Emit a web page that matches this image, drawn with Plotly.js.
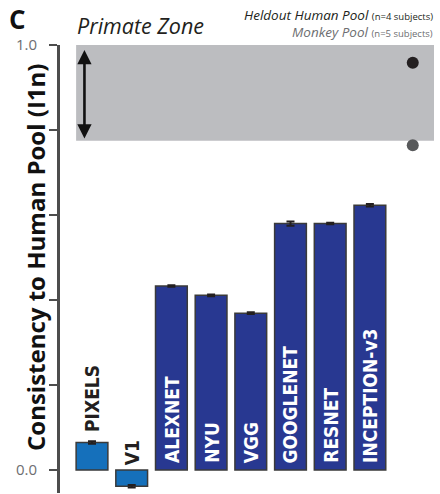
<!DOCTYPE html>
<html>
<head>
<meta charset="utf-8">
<script src="https://cdn.plot.ly/plotly-3.0.1.min.js"></script>
<style>
  html, body { margin: 0; padding: 0; background: #fff; }
  #chart { width: 440px; height: 494px; }
</style>
</head>
<body>
<div id="chart"></div>
<script>
// Model consistency with the human pool (I1n metric)
const models = ['PIXELS', 'V1', 'ALEXNET', 'NYU', 'VGG', 'GOOGLENET', 'RESNET', 'INCEPTION-v3'];
const consistency = [0.065, -0.038, 0.433, 0.411, 0.369, 0.580, 0.580, 0.623];
const consistencyErr = [0.003, 0.003, 0.002, 0.002, 0.002, 0.005, 0.002, 0.003];
const modelColors = ['#1570bb', '#1570bb', '#283891', '#283891', '#283891', '#283891', '#283891', '#283891'];

// Primate reference pools
const poolNames = ['Heldout Human Pool', 'Monkey Pool'];
const poolSubjects = [4, 5];
const poolConsistency = [0.958, 0.764];
const poolColors = ['#231f20', '#58595b'];
const poolTextColors = ['#231f20', '#6d6e71'];

// Primate zone band limits
const zoneLow = 0.775;
const zoneHigh = 1.0;

const yTickVals = [0, 0.2, 0.4, 0.6, 0.8, 1.0];
const yTickText = ['0.0', '', '', '', '', '1.0'];

// layout constants
const idx = models.map((_, i) => i);
const poolX = 8.08;
const labelFont = { family: 'Liberation Sans Narrow, DejaVu Sans Condensed, sans-serif', size: 19, weight: 'bold' };

const bars = {
  type: 'bar',
  x: idx,
  y: consistency,
  width: 0.8,
  marker: { color: modelColors, line: { color: '#3a3a3a', width: 1.5 } },
  error_y: { type: 'data', array: consistencyErr, visible: true, color: '#231f20', thickness: 2, width: 4 },
  hoverinfo: 'x+y',
  showlegend: false
};

const pools = {
  type: 'scatter',
  mode: 'markers',
  x: poolNames.map(() => poolX),
  y: poolConsistency,
  marker: { color: poolColors, size: 12 },
  text: poolNames,
  hoverinfo: 'text+y',
  showlegend: false
};

// bar name labels: pixel/V1 above their bars, the deep nets inside theirs
const annotations = models.map((m, i) => {
  const inside = i >= 2;
  return {
    x: i, xref: 'x',
    y: inside ? 0 : Math.max(consistency[i], 0), yref: 'y',
    yanchor: 'bottom', xanchor: 'center',
    yshift: inside ? 5 : (i === 0 ? 8 : 3),
    text: m, textangle: -90, showarrow: false,
    font: Object.assign({}, labelFont, { color: inside ? '#ffffff' : '#231f20' })
  };
});

// double-headed arrow spanning the primate zone
annotations.push({
  x: -0.19, y: zoneLow + 0.005, xref: 'x', yref: 'y',
  ax: -0.19, ay: zoneHigh - 0.008, axref: 'x', ayref: 'y',
  text: '', showarrow: true, arrowhead: 2, startarrowhead: 2, arrowside: 'end+start',
  arrowsize: 1.1, startarrowsize: 1.1, arrowwidth: 2.6, arrowcolor: '#111111'
});

// axis title, panel letter, zone title and pool legend text
annotations.push(
  { text: 'Consistency to Human Pool (I1n)', textangle: -90,
    xref: 'paper', yref: 'paper', x: 0, y: 0.5, xshift: -25, yshift: 11,
    xanchor: 'center', yanchor: 'middle', showarrow: false,
    font: { family: 'Open Sans, sans-serif', size: 24, weight: 'bold', color: '#111' } },
  { text: 'C', xref: 'paper', yref: 'paper', x: 0, y: 1, xshift: -52, yshift: 45,
    xanchor: 'left', yanchor: 'top', showarrow: false, borderpad: 0,
    font: { family: 'Open Sans, sans-serif', size: 26, weight: 'bold', color: '#111' } },
  { text: '<i>Primate Zone</i>', xref: 'paper', yref: 'paper', x: 0, y: 1, xshift: 15, yshift: 3,
    xanchor: 'left', yanchor: 'bottom', showarrow: false,
    font: { family: 'Open Sans, sans-serif', size: 21.5, color: '#231f20' } }
);
poolNames.forEach((p, k) => {
  annotations.push({
    text: '<i>' + p + '</i> <span style="font-size:9.5px">(n=' + poolSubjects[k] + ' subjects)</span>',
    xref: 'paper', yref: 'paper', x: 1, y: 1, yshift: k === 0 ? 20 : 3, borderpad: 0,
    xanchor: 'right', yanchor: 'bottom', showarrow: false,
    font: { family: 'Open Sans, sans-serif', size: 13.5, color: poolTextColors[k] }
  });
});

const layout = {
  width: 440, height: 494,
  margin: { l: 60, r: 6, t: 45, b: 1 },
  paper_bgcolor: '#ffffff', plot_bgcolor: '#ffffff',
  xaxis: { range: [-0.806, 8.615], showline: false, showgrid: false, zeroline: false,
           showticklabels: false, ticks: '', fixedrange: true },
  yaxis: {
    range: [-0.054, 1.0], showgrid: false, zeroline: false,
    showline: true, linecolor: '#4d4d4d', linewidth: 3,
    ticks: 'outside', ticklen: 8, tickwidth: 1.5, tickcolor: '#4d4d4d',
    tickvals: yTickVals, ticktext: yTickText, ticklabelstandoff: 9,
    tickfont: { family: 'Open Sans, sans-serif', size: 15, color: '#6d6e71' }
  },
  shapes: [{
    type: 'rect', xref: 'x', yref: 'y', layer: 'below',
    x0: -0.4, x1: 8.615, y0: zoneLow, y1: zoneHigh,
    fillcolor: '#bcbdc0', line: { width: 0 }
  }],
  annotations: annotations,
  showlegend: false
};

Plotly.newPlot('chart', [bars, pools], layout, { displayModeBar: false, staticPlot: true });
</script>
</body>
</html>
